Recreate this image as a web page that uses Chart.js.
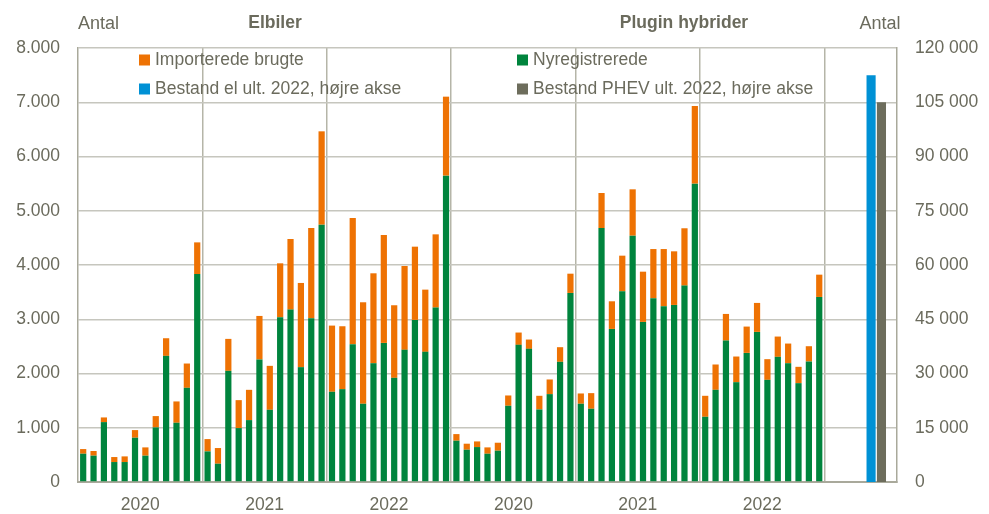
<!DOCTYPE html>
<html>
<head>
<meta charset="utf-8">
<script src="https://cdn.jsdelivr.net/npm/chart.js@4/dist/chart.umd.min.js"></script>
<style>
  html, body { margin: 0; padding: 0; background: #ffffff; }
  #wrap { position: relative; width: 989px; height: 514px; }
</style>
</head>
<body>
<div id="wrap"><canvas id="c" width="989" height="514"></canvas></div>
<script>
// ---- Data ----
const years = ['2020', '2021', '2022'];
const groups = ['Elbiler', 'Plugin hybrider'];

// Elbiler (monthly, 2020-2022)
const evNew = [521,485,1104,368,368,816,485,1006,2325,1092,1736,3834,
               564,337,2049,994,1141,2258,1331,3037,3178,2117,3018,4743,
               1663,1712,2540,1442,2190,2564,1920,2436,2988,2399,3215,5647];
const evImported = [86,86,86,92,104,141,153,209,325,393,448,583,
                    227,289,589,515,558,803,810,994,1301,1552,1664,1721,
                    1220,1159,2326,1871,1657,1989,1338,1546,1350,1147,1350,1456];

// Plugin hybrider (monthly, 2020-2022)
const phevNew = [761,595,644,521,577,1405,2528,2454,1337,1620,2215,3485,
                 1442,1350,4682,2822,3515,4540,2951,3387,3239,3264,3620,5499,
                 1202,1699,2607,1840,2380,2767,1883,2307,2190,1822,2221,3411];
const phevImported = [122,111,104,117,147,190,227,172,252,270,270,355,
                      190,288,645,509,657,855,926,907,1055,988,1057,1432,
                      387,467,491,473,485,534,381,374,362,301,282,411];

// Stock at end of 2022 (right axis)
const stockEl = 112500;
const stockPhev = 105000;

const leftTicks = { min: 0, max: 8000, step: 1000 };
const rightTicks = { min: 0, max: 120000, step: 15000 };

const seriesNames = ['Importerede brugte', 'Nyregistrerede',
                     'Bestand el ult. 2022, højre akse', 'Bestand PHEV ult. 2022, højre akse'];

// ---- Build categories ----
const categories = [];
groups.forEach(g => years.forEach(y => { for (let m = 1; m <= 12; m++) categories.push(g + ' ' + y + '-' + m); }));
const nMonthly = categories.length; // 72
categories.push('', '', '', '', 'Bestand el', 'Bestand PHEV', '');
const idxEl = nMonthly + 4, idxPhev = nMonthly + 5;

const pad = arr => arr.concat(new Array(categories.length - arr.length).fill(null));
const newData = pad(evNew.concat(phevNew));
const impData = pad(evImported.concat(phevImported));
const elData = categories.map((c, i) => i === idxEl ? stockEl : null);
const phevData = categories.map((c, i) => i === idxPhev ? stockPhev : null);

const C_GREEN = '#00843d', C_ORANGE = '#ee7203', C_BLUE = '#0091d5', C_GRAY = '#6d6d5c';
const TXT = '#6b6b5d';
const FONT = 'Liberation Sans, Arial, sans-serif';
const FS = 17.5;

const overlay = {
  id: 'overlay',
  afterDraw(chart) {
    const ctx = chart.ctx;
    ctx.save();
    ctx.fillStyle = TXT;
    ctx.textBaseline = 'middle';
    ctx.font = '18px ' + FONT;
    ctx.textAlign = 'left';
    ctx.fillText('Antal', 78, 24);
    ctx.textAlign = 'center';
    ctx.fillText('Antal', 880, 24);
    ctx.font = 'bold ' + FS + 'px ' + FONT;
    ctx.fillText(groups[0], 275, 23);
    ctx.fillText(groups[1], 684, 23);
    // legend
    const items = [
      [139, 60, C_ORANGE, seriesNames[0]],
      [517, 60, C_GREEN, seriesNames[1]],
      [139, 89, C_BLUE, seriesNames[2]],
      [517, 89, C_GRAY, seriesNames[3]]
    ];
    ctx.font = FS + 'px ' + FONT;
    ctx.textAlign = 'left';
    items.forEach(([x, y, col, label]) => {
      ctx.fillStyle = col;
      ctx.fillRect(x, y - 5.5, 11, 11);
      ctx.fillStyle = TXT;
      ctx.fillText(label, x + 16, y);
    });
    ctx.restore();
  }
};

new Chart(document.getElementById('c'), {
  type: 'bar',
  data: {
    labels: categories,
    datasets: [
      { label: seriesNames[1], data: newData, backgroundColor: C_GREEN, yAxisID: 'y', barPercentage: 0.6, categoryPercentage: 1, order: 2 },
      { label: seriesNames[0], data: impData, backgroundColor: C_ORANGE, yAxisID: 'y', barPercentage: 0.6, categoryPercentage: 1, order: 2 },
      { label: seriesNames[2], data: elData, backgroundColor: C_BLUE, yAxisID: 'y1', barPercentage: 0.88, categoryPercentage: 1, order: 1 },
      { label: seriesNames[3], data: phevData, backgroundColor: C_GRAY, yAxisID: 'y1', barPercentage: 0.88, categoryPercentage: 1, order: 1 }
    ]
  },
  options: {
    responsive: false,
    animation: false,
    layout: { padding: { top: 48, left: 0, right: 0, bottom: 0 } },
    plugins: { legend: { display: false }, tooltip: { enabled: false }, title: { display: false } },
    scales: {
      x: {
        stacked: true,
        offset: true,
        afterFit(s) { s.height = 32; },
        grid: {
          offset: true,
          drawTicks: false,
          color: ctx => (ctx.index % 12 === 0 && ctx.index > 0 && ctx.index <= nMonthly) ? '#b5b5a8' : 'rgba(0,0,0,0)',
          lineWidth: 1.5
        },
        border: { display: true, color: '#a9a99b', width: 2 },
        ticks: {
          autoSkip: false, maxRotation: 0, minRotation: 0, padding: 13,
          labelOffset: 5.2,
          color: TXT, font: { family: FONT, size: FS },
          callback: (v, i) => (i < nMonthly && i % 12 === 5) ? years[Math.floor(i / 12) % 3] : ''
        }
      },
      y: {
        stacked: true,
        position: 'left',
        min: leftTicks.min, max: leftTicks.max,
        afterFit(s) { s.width = 78; },
        grid: { color: '#c6c6be', lineWidth: 1.5, drawTicks: false },
        border: { display: true, color: '#a9a99b', width: 1.5 },
        ticks: {
          stepSize: leftTicks.step, padding: 18, color: TXT, font: { family: FONT, size: FS },
          callback: v => v === 0 ? '0' : (Math.floor(v / 1000) + '.' + String(v % 1000).padStart(3, '0'))
        }
      },
      y1: {
        stacked: true,
        position: 'right',
        min: rightTicks.min, max: rightTicks.max,
        afterFit(s) { s.width = 92; },
        grid: { display: false, drawTicks: false },
        border: { display: true, color: '#a9a99b', width: 1.5 },
        ticks: {
          stepSize: rightTicks.step, padding: 18, color: TXT, font: { family: FONT, size: FS },
          callback: v => v === 0 ? '0' : (Math.floor(v / 1000) + ' ' + String(v % 1000).padStart(3, '0'))
        }
      }
    }
  },
  plugins: [overlay]
});
</script>
</body>
</html>
